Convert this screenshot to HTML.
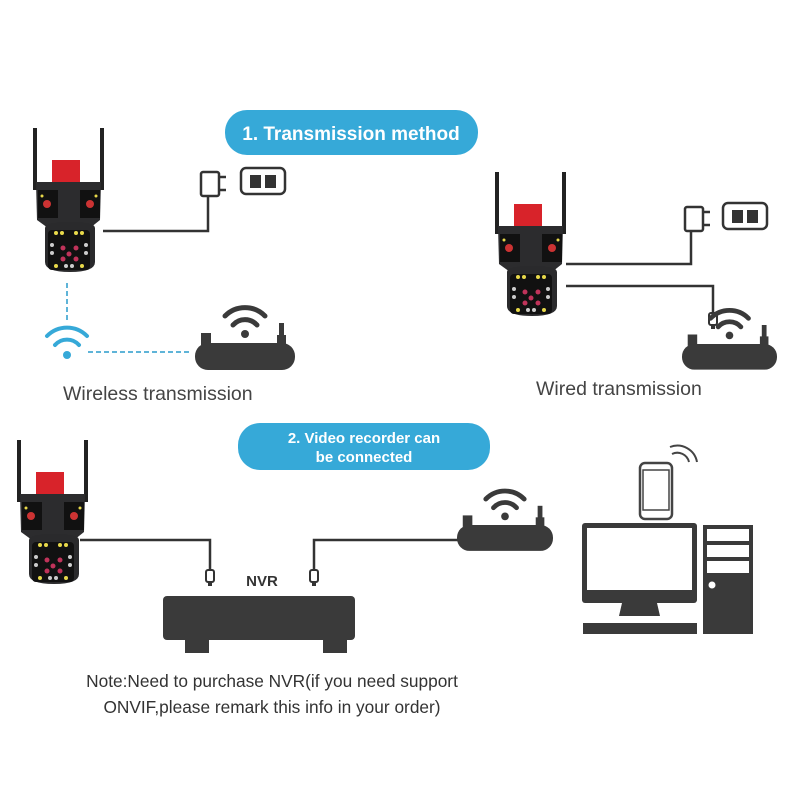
<!DOCTYPE html>
<html><head><style>body{margin:0;background:#fff}svg{display:block}</style></head><body>
<svg width="800" height="800" viewBox="0 0 800 800" xmlns="http://www.w3.org/2000/svg" font-family="Liberation Sans, sans-serif">
<defs>
<g id="cam">
<rect x="33" y="128" width="4" height="62" fill="#222"/>
<rect x="100" y="128" width="4" height="62" fill="#222"/>
<rect x="52" y="160" width="28" height="22" fill="#d8232a"/>
<path d="M36 182 L101 182 L100 220 L90 228 L48 228 L37 220 Z" fill="#2c2c2e"/>
<rect x="38" y="190" width="20" height="28" fill="#111"/>
<rect x="80" y="190" width="20" height="28" fill="#111"/>
<circle cx="47" cy="204" r="4" fill="#c33"/><circle cx="90" cy="204" r="4" fill="#c33"/>
<path d="M45 228 Q45 222 70 222 Q95 222 95 228 L95 262 Q95 272 70 272 Q45 272 45 262 Z" fill="#2a2a2c"/>
<rect x="48" y="230" width="42" height="40" rx="4" fill="#111"/>
<g fill="#e8d94a"><circle cx="56" cy="233" r="2"/><circle cx="62" cy="233" r="2"/><circle cx="76" cy="233" r="2"/><circle cx="82" cy="233" r="2"/><circle cx="56" cy="266" r="2"/><circle cx="82" cy="266" r="2"/><circle cx="42" cy="196" r="1.5"/><circle cx="96" cy="196" r="1.5"/></g>
<g fill="#ccc"><circle cx="52" cy="245" r="2"/><circle cx="52" cy="253" r="2"/><circle cx="86" cy="245" r="2"/><circle cx="86" cy="253" r="2"/><circle cx="66" cy="266" r="2"/><circle cx="72" cy="266" r="2"/></g>
<g fill="#c0335a"><circle cx="63" cy="248" r="2.5"/><circle cx="76" cy="248" r="2.5"/><circle cx="69" cy="254" r="2.5"/><circle cx="63" cy="259" r="2.5"/><circle cx="76" cy="259" r="2.5"/></g>
</g>
<g id="router">
<rect x="0" y="0" width="100" height="27" rx="13" fill="#3a3a3a"/>
<rect x="6" y="-10" width="10" height="12" fill="#3a3a3a"/>
<rect x="84" y="-20" width="5" height="22" fill="#3a3a3a"/>
<rect x="82" y="-8" width="9" height="10" fill="#3a3a3a"/>
<g fill="none" stroke="#3a3a3a" stroke-width="5" stroke-linecap="round">
<path d="M30 -27 A28 28 0 0 1 70 -27"/><path d="M38 -18 A16 16 0 0 1 62 -18"/></g>
<circle cx="50" cy="-9" r="4" fill="#3a3a3a"/>
</g>
<g id="plug" fill="none" stroke="#333" stroke-width="2.5">
<rect x="0" y="0" width="18" height="24" rx="2"/><path d="M18 5 H25 M18 18 H25"/>
</g>
<g id="sock"><rect x="0" y="0" width="44" height="26" rx="5" fill="none" stroke="#333" stroke-width="2.5"/><rect x="9" y="7" width="11" height="13" fill="#333"/><rect x="24" y="7" width="11" height="13" fill="#333"/></g>
<g id="jack"><rect x="-4" y="0" width="8" height="12" rx="2" fill="none" stroke="#333" stroke-width="2"/><rect x="-2" y="12" width="4" height="4" fill="#333"/></g>
</defs>

<rect x="225" y="110" width="253" height="45" rx="22" fill="#36a9d8"/>
<text x="351" y="140" text-anchor="middle" font-size="19" font-weight="bold" fill="#fff">1. Transmission method</text>
<rect x="238" y="423" width="252" height="47" rx="22" fill="#36a9d8"/>
<text x="364" y="443" text-anchor="middle" font-size="15" font-weight="bold" fill="#fff">2. Video recorder can</text>
<text x="364" y="462" text-anchor="middle" font-size="15" font-weight="bold" fill="#fff">be connected</text>

<use href="#cam"/>
<use href="#cam" transform="translate(462,44)"/>
<use href="#cam" transform="translate(-16,312)"/>

<use href="#plug" transform="translate(201,172)"/>
<use href="#sock" transform="translate(241,168)"/>
<path d="M103 231 H208 V196" fill="none" stroke="#333" stroke-width="2.5"/>

<path d="M67 283 V320 M88 352 H190" stroke="#5fb4d8" stroke-width="2" stroke-dasharray="5,3"/>
<g fill="none" stroke="#36a9d8" stroke-width="4" stroke-linecap="round"><path d="M47 336 A28 28 0 0 1 87 336"/><path d="M55 345 A16 16 0 0 1 79 345"/></g>
<circle cx="67" cy="355" r="4" fill="#36a9d8"/>
<use href="#router" transform="translate(195,343)"/>
<text x="63" y="400" font-size="19.5" fill="#444">Wireless transmission</text>

<use href="#plug" transform="translate(685,207)"/>
<use href="#sock" transform="translate(723,203)"/>
<path d="M566 264 H691 V231 M566 286 H713 V313" fill="none" stroke="#333" stroke-width="2.5"/>
<use href="#jack" transform="translate(713,313)"/>
<use href="#router" transform="translate(682,344) scale(0.95)"/>
<text x="536" y="395" font-size="19.5" fill="#444">Wired transmission</text>

<path d="M80 540 H210 V570 M314 570 V540 H462" fill="none" stroke="#333" stroke-width="2.5"/>
<use href="#jack" transform="translate(210,570)"/>
<use href="#jack" transform="translate(314,570)"/>
<text x="262" y="586" text-anchor="middle" font-size="15" font-weight="bold" fill="#333">NVR</text>
<rect x="163" y="596" width="192" height="44" rx="4" fill="#3a3a3a"/>
<rect x="185" y="638" width="24" height="15" fill="#3a3a3a"/>
<rect x="323" y="638" width="24" height="15" fill="#3a3a3a"/>

<use href="#router" transform="translate(457,525) scale(0.96)"/>

<rect x="640" y="463" width="32" height="56" rx="5" fill="#fff" stroke="#444" stroke-width="2.5"/>
<rect x="643" y="470" width="26" height="40" fill="none" stroke="#444" stroke-width="1.5"/>
<g fill="none" stroke="#444" stroke-width="2"><path d="M670 447 A20 20 0 0 1 697 462"/><path d="M672 454 A12 12 0 0 1 689 462"/></g>
<rect x="582" y="523" width="115" height="80" rx="3" fill="#3a3a3a"/>
<rect x="587" y="528" width="105" height="62" fill="#fff"/>
<path d="M622 603 L657 603 L660 616 L619 616 Z" fill="#3a3a3a"/>
<rect x="583" y="623" width="114" height="11" fill="#3a3a3a"/>
<rect x="703" y="525" width="50" height="109" fill="#3a3a3a"/>
<rect x="707" y="529" width="42" height="12" fill="#fff"/>
<rect x="707" y="545" width="42" height="12" fill="#fff"/>
<rect x="707" y="561" width="42" height="12" fill="#fff"/>
<circle cx="712" cy="585" r="3.5" fill="#fff"/>

<text x="272" y="687" text-anchor="middle" font-size="17.3" fill="#333">Note:Need to purchase NVR(if you need support</text>
<text x="272" y="713" text-anchor="middle" font-size="17.3" fill="#333">ONVIF,please remark this info in your order)</text>
</svg>
</body></html>
